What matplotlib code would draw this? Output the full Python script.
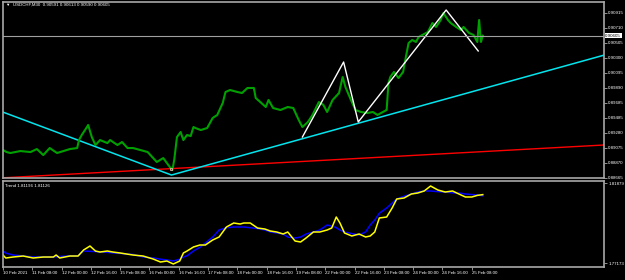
import matplotlib
matplotlib.use("Agg")
import matplotlib.pyplot as plt

plt.rcParams["font.family"] = ["Liberation Sans", "DejaVu Sans"]

# price samples (bar index on M30, close)
bars = [0, 4, 8, 19, 30, 37, 44, 51, 59, 66, 73, 81, 83, 86, 91, 93, 97, 101, 106, 114,
        117, 125, 130, 136, 142, 150, 158, 163, 168, 175, 179, 183, 185, 187, 190, 194, 197, 201,
        205, 208, 210, 216, 223, 229, 234, 240, 243, 248, 256, 261, 267, 274, 276, 281, 287, 290,
        295, 303, 311, 317, 323, 327, 333, 338, 345, 350, 354, 360, 367, 371, 374, 380, 385, 391,
        398, 404, 409, 415, 419, 421, 423, 427, 432, 437, 440, 443, 447, 451, 454, 458, 464, 469,
        473, 478, 481, 486, 489, 495, 500, 503, 509, 514, 518, 520, 522, 524]
close = [0.89042, 0.89014, 0.89001, 0.89028, 0.89014, 0.89055, 0.88973, 0.89069, 0.89001, 0.89028,
         0.89055, 0.89069, 0.89178, 0.89247, 0.89343, 0.89384, 0.89219, 0.89110, 0.89178, 0.89137,
         0.89178, 0.89110, 0.89151, 0.89069, 0.89069, 0.89042, 0.89014, 0.88946, 0.88878, 0.88932,
         0.88864, 0.88796, 0.88768, 0.88905, 0.89219, 0.89288, 0.89178, 0.89247, 0.89233, 0.89356,
         0.89343, 0.89315, 0.89343, 0.89480, 0.89521, 0.89685, 0.89835, 0.89862, 0.89835, 0.89821,
         0.89890, 0.89890, 0.89753, 0.89698, 0.89630, 0.89726, 0.89616, 0.89589, 0.89630, 0.89616,
         0.89452, 0.89356, 0.89425, 0.89521, 0.89698, 0.89657, 0.89562, 0.89726, 0.89821, 0.90040,
         0.89903, 0.89726, 0.89589, 0.89562, 0.89548, 0.89562, 0.89521, 0.89562, 0.89589, 0.89958,
         0.90040, 0.90109, 0.90026, 0.90109, 0.90314, 0.90505, 0.90546, 0.90519, 0.90587, 0.90614,
         0.90655, 0.90778, 0.90724, 0.90819, 0.90915, 0.90819, 0.90778, 0.90724, 0.90683, 0.90724,
         0.90642, 0.90614, 0.90519, 0.90819, 0.90519, 0.90605]

# trend lines (bar, price)
cyan_bars = [0, 184, 657]
cyan_px = [0.89560, 0.88700, 0.90341]
red_bars = [0, 657]
red_px = [0.88662, 0.89111]
white_bars = [327, 372, 388, 484, 519]
white_px = [0.89220, 0.90245, 0.89425, 0.90956, 0.90396]

# Trend indicator
ind_bars = [0, 3, 11, 22, 33, 44, 55, 58, 62, 73, 82, 88, 95, 101, 106, 114, 120, 128, 135,
            142, 153, 164, 172, 179, 186, 193, 197, 201, 208, 215, 221, 229, 236, 244, 252, 259,
            263, 270, 278, 286, 292, 299, 306, 311, 319, 325, 331, 339, 346, 354, 359, 364, 368,
            373, 381, 389, 396, 401, 406, 411, 419, 425, 430, 438, 446, 453, 460, 467, 475, 483,
            491, 498, 505, 512, 518, 524]
yellow = [1.77645, 1.77469, 1.77527, 1.77586, 1.77469, 1.77527, 1.77527, 1.77645, 1.77469, 1.77586,
          1.77586, 1.77939, 1.78174, 1.77880, 1.77821, 1.77880, 1.77821, 1.77763, 1.77704, 1.77645,
          1.77586, 1.77410, 1.77233, 1.77292, 1.77116, 1.77292, 1.77763, 1.77880, 1.78116, 1.78233,
          1.78233, 1.78527, 1.78704, 1.79292, 1.79527, 1.79468, 1.79527, 1.79527, 1.79233, 1.79174,
          1.79057, 1.78998, 1.78880, 1.78998, 1.78468, 1.78410, 1.78645, 1.78998, 1.78998, 1.79115,
          1.79233, 1.79880, 1.79527, 1.78939, 1.78763, 1.78880, 1.78704, 1.78763, 1.78998, 1.79821,
          1.79880, 1.80409, 1.80938, 1.80997, 1.81232, 1.81291, 1.81409, 1.81703, 1.81467, 1.81350,
          1.81409, 1.81232, 1.81056, 1.81056, 1.81150, 1.81196]
blue = [1.77880, 1.77760, 1.77645, 1.77586, 1.77527, 1.77527, 1.77527, 1.77540, 1.77560, 1.77586,
        1.77600, 1.77880, 1.77860, 1.77850, 1.77821, 1.77800, 1.77770, 1.77740, 1.77704, 1.77680,
        1.77527, 1.77470, 1.77400, 1.77351, 1.77292, 1.77400, 1.77527, 1.77600, 1.77880, 1.78100,
        1.78351, 1.78700, 1.79115, 1.79250, 1.79292, 1.79292, 1.79292, 1.79250, 1.79200, 1.79115,
        1.79000, 1.78939, 1.78880, 1.78700, 1.78645, 1.78700, 1.78880, 1.78998, 1.79115, 1.79409,
        1.79350, 1.79250, 1.79115, 1.79000, 1.78900, 1.78821, 1.79000, 1.79409, 1.79700, 1.80100,
        1.80409, 1.80700, 1.80938, 1.81100, 1.81232, 1.81350, 1.81409, 1.81409, 1.81370, 1.81350,
        1.81300, 1.81291, 1.81232, 1.81200, 1.81173, 1.81126]

price_ticks = [0.90915, 0.90710, 0.90505, 0.90300, 0.90095, 0.89890, 0.89685, 0.89485,
               0.89280, 0.89075, 0.88870, 0.88665]
ind_ticks = [1.81879, 1.77173]
time_labels = ["10 Feb 2021", "11 Feb 08:00", "12 Feb 00:00", "12 Feb 16:00", "15 Feb 08:00",
               "16 Feb 00:00", "16 Feb 16:00", "17 Feb 08:00", "18 Feb 00:00", "18 Feb 16:00",
               "19 Feb 08:00", "22 Feb 00:00", "22 Feb 16:00", "23 Feb 08:00", "24 Feb 00:00",
               "24 Feb 16:00", "25 Feb 08:00"]
last_price = 0.90605

W, H = 625, 280
fig = plt.figure(figsize=(W / 100, H / 100), dpi=100, facecolor="black")
frame = "#a8a8a8"
fs = 3.2

ax1 = fig.add_axes([3 / W, 1 - 178 / H, 601 / W, 176 / H], facecolor="black")
ax2 = fig.add_axes([3 / W, 1 - 267 / H, 601 / W, 86 / H], facecolor="black")
xmax = 656.4

ax1.plot(red_bars, red_px, color="#ff0000", lw=1.0)
ax1.plot(cyan_bars, cyan_px, color="#00e5ee", lw=1.1)
ax1.plot(bars, close, color="#00a000", lw=1.5)
ax1.plot(white_bars, white_px, color="white", lw=1.0)
ax1.axhline(last_price, color="#a0a0a0", lw=0.8)
ax1.plot([184], [0.8878], marker="s", ms=2, mfc="red", mec="white", mew=0.4)
ax1.set_xlim(0, xmax)
ax1.set_ylim(0.886594, 0.910653)

ax2.plot(ind_bars, blue, color="#0000ff", lw=1.1)
ax2.plot(ind_bars, yellow, color="#ffff00", lw=1.1)
ax2.set_xlim(0, xmax)
ax2.set_ylim(1.76940, 1.81997)

for ax in (ax1, ax2):
    for s in ax.spines.values():
        s.set_color(frame)
        s.set_linewidth(1.2)
    ax.yaxis.tick_right()
    ax.tick_params(axis="y", colors=frame, labelcolor="white", length=2, width=0.6,
                   labelsize=fs, pad=1)

ax1.set_yticks(price_ticks)
ax1.set_yticklabels(["%.5f" % p for p in price_ticks])
ax1.set_xticks([])
ax1.text(xmax + 1.5, last_price, "%.5f" % last_price, fontsize=fs, color="black",
         va="center", ha="left", clip_on=False,
         bbox=dict(boxstyle="square,pad=0.15", fc="white", ec="none"))

ax2.set_yticks(ind_ticks)
ax2.set_yticklabels(["%.5f" % v for v in ind_ticks])
ax2.set_xticks([32 * i for i in range(len(time_labels))])
ax2.set_xticklabels(time_labels, ha="left")
ax2.tick_params(axis="x", colors=frame, labelcolor="white", length=2, width=0.6,
                labelsize=3.2, pad=1)

ax1.text(0.005, 0.995, "\u25bc  USDCHF,M30  0.90591 0.90613 0.90590 0.90605", transform=ax1.transAxes,
         fontsize=fs, color="white", va="top", ha="left")
ax2.text(0.003, 0.97, "Trend 1.81196 1.81126", transform=ax2.transAxes,
         fontsize=fs, color="white", va="top", ha="left")

fig.savefig("out.png", dpi=100, facecolor="black")
